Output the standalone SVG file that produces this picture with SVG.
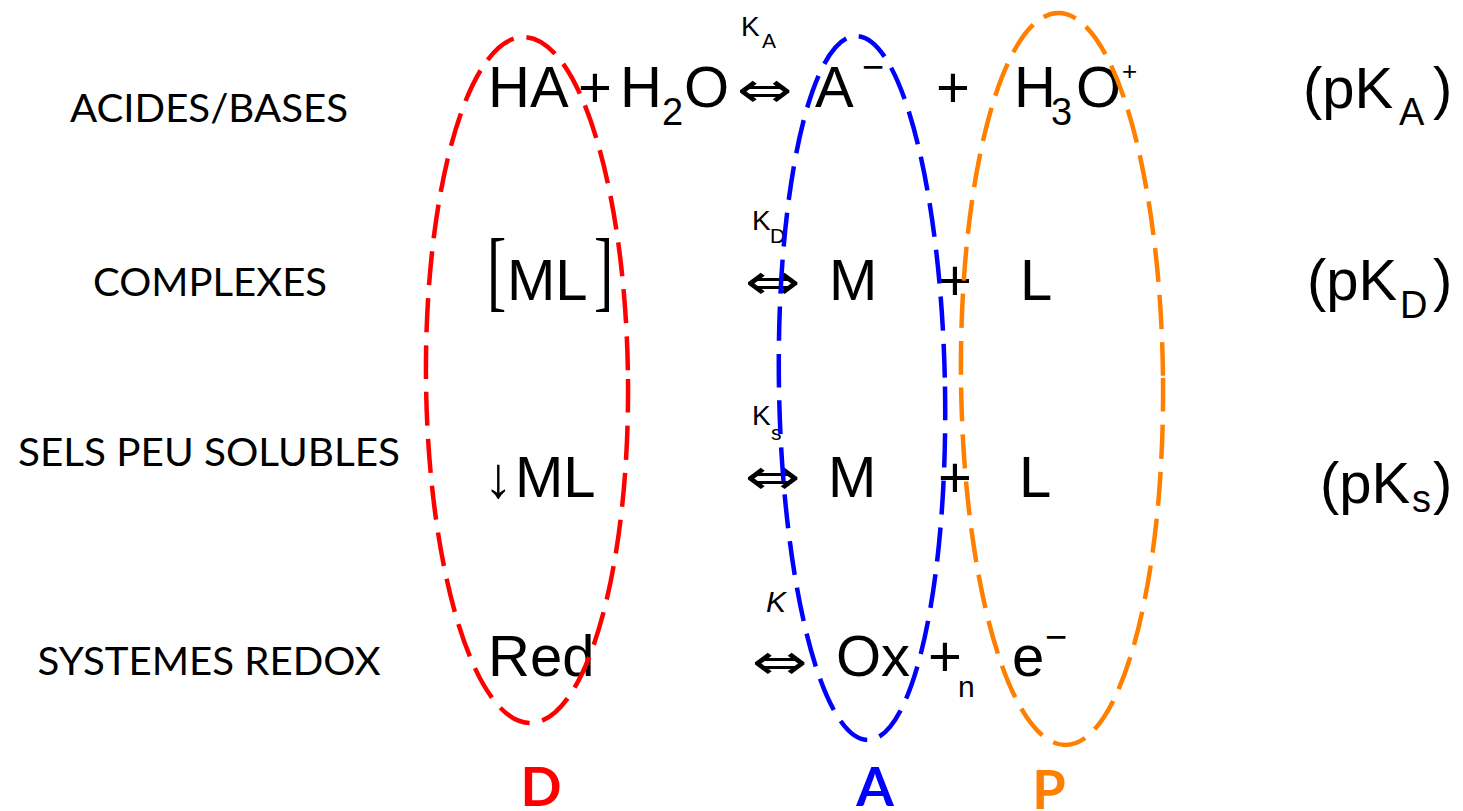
<svg xmlns="http://www.w3.org/2000/svg" width="1463" height="811" viewBox="0 0 1463 811">
<style>
.lbl{font-family:Lato,"Open Sans","Liberation Sans",sans-serif;font-size:38px;fill:#000;text-anchor:middle}
.eq{font-family:"Liberation Sans",Arial,sans-serif;font-size:58px;fill:#000}
.sub{font-family:"Liberation Sans",Arial,sans-serif;font-size:38px;fill:#000}
.k{font-family:"Liberation Sans",Arial,sans-serif;font-size:28px;fill:#000}
.ks{font-family:"Liberation Sans",Arial,sans-serif;font-size:21px;fill:#000}
.arr{font-family:"DejaVu Sans",sans-serif;font-size:50px;fill:#000}
.ell{fill:none;stroke-width:4.5;stroke-dasharray:34 13}
.big{font-family:Lato,"Open Sans","Liberation Sans",sans-serif;font-weight:bold;font-size:54px;text-anchor:middle}
</style>
<rect width="1463" height="811" fill="#fff"/>
<g id="labels">
<text class="lbl" x="209" y="122" textLength="278" lengthAdjust="spacingAndGlyphs">ACIDES/BASES</text>
<text class="lbl" x="210" y="296" textLength="234" lengthAdjust="spacingAndGlyphs">COMPLEXES</text>
<text class="lbl" x="209" y="466" textLength="382" lengthAdjust="spacingAndGlyphs">SELS PEU SOLUBLES</text>
<text class="lbl" x="209" y="675" textLength="343" lengthAdjust="spacingAndGlyphs">SYSTEMES REDOX</text>
</g>
<g id="row-acid">
<text class="eq" x="488" y="107">HA</text>
<text class="eq" x="578" y="107">+</text>
<text class="eq" x="620" y="107">H</text>
<text class="sub" x="662" y="125">2</text>
<text class="eq" x="684" y="107">O</text>
<text class="arr" x="737" y="107" textLength="56" lengthAdjust="spacingAndGlyphs">⇔</text>
<text class="k" x="741" y="36">K</text>
<text class="ks" x="762" y="48">A</text>
<text class="eq" x="815" y="107">A</text>
<text class="sub" x="862" y="80">−</text>
<text class="eq" x="936" y="107">+</text>
<text class="eq" x="1014" y="107">H</text>
<text class="sub" x="1051" y="125">3</text>
<text class="eq" x="1076" y="107">O</text>
<text class="ks" x="1122" y="80" style="font-size:26px">+</text>
<text class="eq" x="1303" y="108">(pK</text>
<text class="sub" x="1399" y="125">A</text>
<text class="eq" x="1433" y="108">)</text>
</g>
<g id="row-complex">
<text class="eq" x="487" y="300" transform="translate(0,-156) scale(1,1.52)" style="font-family:'Liberation Serif',serif">[</text>
<text class="eq" x="507" y="300">ML</text>
<text class="eq" x="594" y="300" transform="translate(0,-156) scale(1,1.52)" style="font-family:'Liberation Serif',serif">]</text>
<text class="arr" x="745" y="299" textLength="56" lengthAdjust="spacingAndGlyphs">⇔</text>
<text class="k" x="752" y="230">K</text>
<text class="ks" x="770" y="243">D</text>
<text class="eq" x="829" y="300">M</text>
<text class="eq" x="938" y="300">+</text>
<text class="eq" x="1020" y="300">L</text>
<text class="eq" x="1307" y="300">(pK</text>
<text class="sub" x="1400" y="318">D</text>
<text class="eq" x="1433" y="300">)</text>
</g>
<g id="row-salt">
<text class="eq" x="484" y="497">↓</text>
<text class="eq" x="515" y="497">ML</text>
<text class="arr" x="745" y="494" textLength="56" lengthAdjust="spacingAndGlyphs">⇔</text>
<text class="k" x="752" y="425">K</text>
<text class="ks" x="771" y="440">s</text>
<text class="eq" x="828" y="497">M</text>
<text class="eq" x="938" y="497">+</text>
<text class="eq" x="1019" y="497">L</text>
<text class="eq" x="1320" y="503">(pK</text>
<text class="sub" x="1412" y="512">s</text>
<text class="eq" x="1433" y="503">)</text>
</g>
<g id="row-redox">
<text class="eq" x="488" y="676">Red</text>
<text class="arr" x="752" y="679" textLength="56" lengthAdjust="spacingAndGlyphs">⇔</text>
<text class="k" x="766" y="612" style="font-style:italic;font-size:30px">K</text>
<text class="eq" x="836" y="676">Ox</text>
<text class="eq" x="928" y="676">+</text>
<text class="sub" x="958" y="697" style="font-size:30px">n</text>
<text class="eq" x="1012" y="676">e</text>
<text class="sub" x="1045" y="650">−</text>
</g>
<g id="group-D">
<ellipse class="ell" cx="527" cy="380" rx="101" ry="343" stroke="#FF0000" transform="rotate(-0.6 527 380)"/>
<text class="big" x="541" y="806" fill="#FF0000">D</text>
</g>
<g id="group-A">
<ellipse class="ell" cx="862" cy="388" rx="83" ry="352" stroke="#0000FF" transform="rotate(-1 862 388)"/>
<text class="big" x="875" y="806" fill="#0000FF">A</text>
</g>
<g id="group-P">
<ellipse class="ell" cx="1062" cy="379" rx="101" ry="366" stroke="#FF8000" transform="rotate(-0.6 1062 379)"/>
<text class="big" x="1049" y="809" fill="#FF8000">P</text>
</g>
<g id="connectors"/>
</svg>
